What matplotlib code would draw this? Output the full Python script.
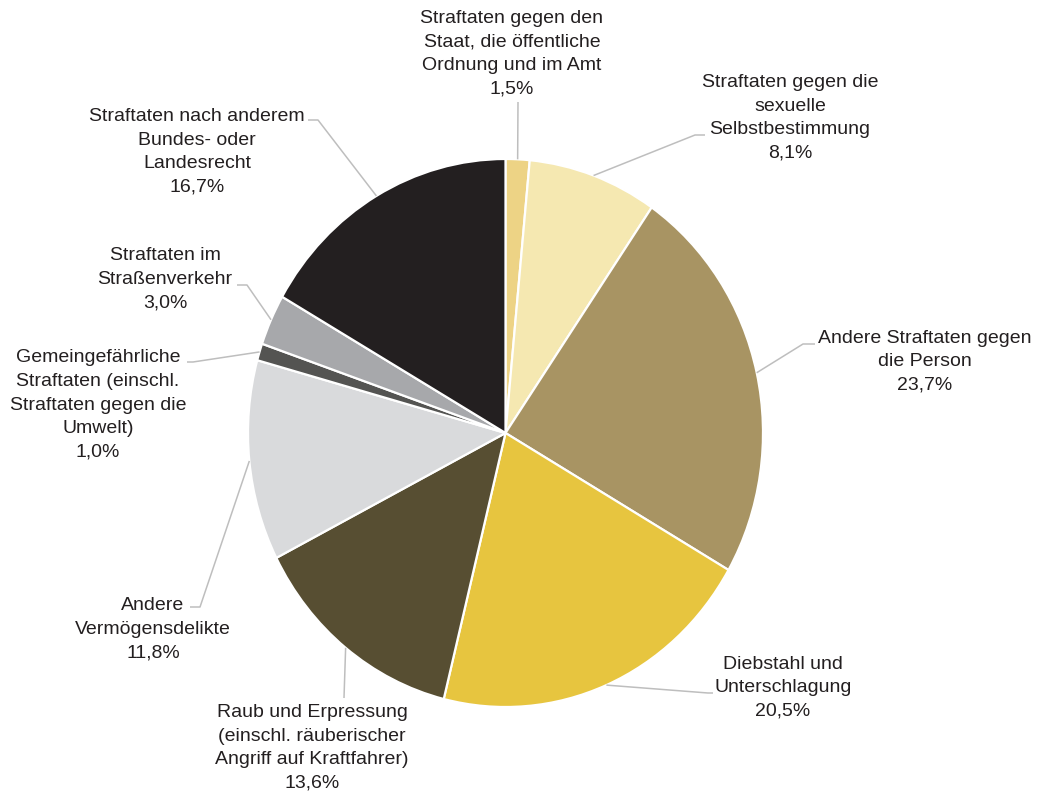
import numpy as np
import matplotlib.pyplot as plt

plt.rcParams['font.family'] = ['Liberation Sans', 'DejaVu Sans']

# data (clockwise from 12 o'clock)
categories = [
    "Straftaten gegen den\nStaat, die öffentliche\nOrdnung und im Amt",
    "Straftaten gegen die\nsexuelle\nSelbstbestimmung",
    "Andere Straftaten gegen\ndie Person",
    "Diebstahl und\nUnterschlagung",
    "Raub und Erpressung\n(einschl. räuberischer\nAngriff auf Kraftfahrer)",
    "Andere\nVermögensdelikte",
    "Gemeingefährliche\nStraftaten (einschl.\nStraftaten gegen die\nUmwelt)",
    "Straftaten im\nStraßenverkehr",
    "Straftaten nach anderem\nBundes- oder\nLandesrecht",
]
shares = [1.5, 8.1, 23.7, 20.5, 13.6, 11.8, 1.0, 3.0, 16.7]
share_labels = ["1,5%", "8,1%", "23,7%", "20,5%", "13,6%", "11,8%", "1,0%", "3,0%", "16,7%"]

colors = ['#EDD385', '#F5E8B1', '#A89463', '#E7C53F', '#574E32',
          '#D9DADC', '#545452', '#A7A8AB', '#231F20']

# layout in figure pixels (from top-left): pie centre / radii, label centres, leader bends
W, H = 1038, 798
cx, cy, rx, ry = 505.5, 433.0, 257.5, 274.0
label_pos = [(512, 54), (790, 118), (925, 362), (783, 688), (312, 748),
             (153, 629), (98, 405), (165, 279), (197, 152)]
leader_pts = [
    [(518, 102)],
    [(695, 135), (705, 135)],
    [(803, 344), (815, 344)],
    [(708, 693), (713, 693)],
    [(344, 698)],
    [(200, 607), (190, 607)],
    [(193, 362), (187, 362)],
    [(247, 285), (237, 285)],
    [(318, 120), (308, 120)],
]


def px(x, y):
    return (x - cx) / rx, (cy - y) / ry


fig = plt.figure(figsize=(W / 100, H / 100), dpi=100)
ax = fig.add_axes([0, 0, 1, 1])

wedges, _ = ax.pie(shares, colors=colors, startangle=90, counterclock=False,
                   radius=1.0, wedgeprops=dict(edgecolor='white', linewidth=1.6))
ax.set_aspect('auto')
ax.set_xlim(-cx / rx, (W - cx) / rx)
ax.set_ylim(-(H - cy) / ry, cy / ry)
ax.axis('off')

for w, cat, pct, (tx, ty), pts in zip(wedges, categories, share_labels, label_pos, leader_pts):
    mid = np.deg2rad((w.theta1 + w.theta2) / 2)
    xs = [np.cos(mid)]
    ys = [np.sin(mid)]
    for p in pts:
        dx, dy = px(*p)
        xs.append(dx)
        ys.append(dy)
    ax.plot(xs, ys, color='#BEBEBE', lw=1.1, solid_capstyle='butt', clip_on=False)
    lx, ly = px(tx, ty)
    ax.text(lx, ly, f"{cat}\n{pct}", ha='center', va='center', fontsize=14,
            color='#231F20', linespacing=1.5, multialignment='center')

fig.savefig('out.png', dpi=100)
